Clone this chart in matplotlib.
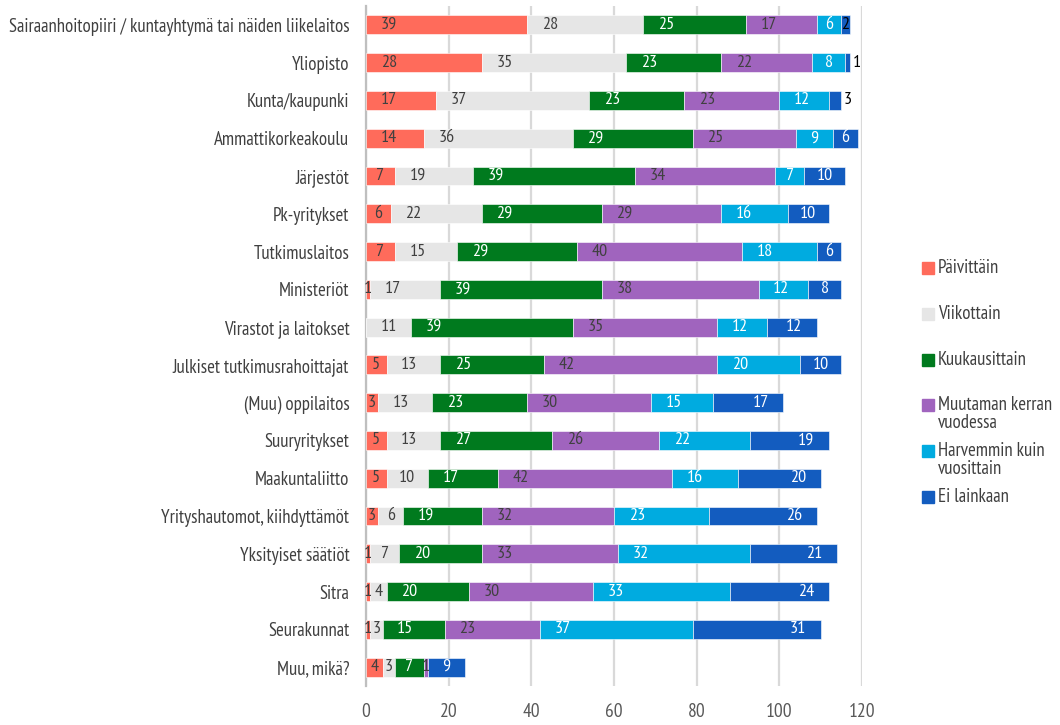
import matplotlib
matplotlib.use("Agg")
import matplotlib.pyplot as plt
import numpy as np
from matplotlib.patches import Rectangle

plt.rcParams['font.family'] = ['PT Sans Narrow', 'Roboto Condensed', 'DejaVu Sans']

categories = [
    "Sairaanhoitopiiri / kuntayhtymä tai näiden liikelaitos",
    "Yliopisto",
    "Kunta/kaupunki",
    "Ammattikorkeakoulu",
    "Järjestöt",
    "Pk-yritykset",
    "Tutkimuslaitos",
    "Ministeriöt",
    "Virastot ja laitokset",
    "Julkiset tutkimusrahoittajat",
    "(Muu) oppilaitos",
    "Suuryritykset",
    "Maakuntaliitto",
    "Yrityshautomot, kiihdyttämöt",
    "Yksityiset säätiöt",
    "Sitra",
    "Seurakunnat",
    "Muu, mikä?",
]

paivittain = [39, 28, 17, 14, 7, 6, 7, 1, 0, 5, 3, 5, 5, 3, 1, 1, 1, 4]
viikottain = [28, 35, 37, 36, 19, 22, 15, 17, 11, 13, 13, 13, 10, 6, 7, 4, 3, 3]
kuukausittain = [25, 23, 23, 29, 39, 29, 29, 39, 39, 25, 23, 27, 17, 19, 20, 20, 15, 7]
muutaman = [17, 22, 23, 25, 34, 29, 40, 38, 35, 42, 30, 26, 42, 32, 33, 30, 23, 1]
harvemmin = [6, 8, 12, 9, 7, 16, 18, 12, 12, 20, 15, 22, 16, 23, 32, 33, 37, 0]
ei_lainkaan = [2, 1, 3, 6, 10, 10, 6, 8, 12, 10, 17, 19, 20, 26, 21, 24, 31, 9]

series_names = ["Päivittäin", "Viikottain", "Kuukausittain",
                "Muutaman kerran\nvuodessa", "Harvemmin kuin\nvuosittain", "Ei lainkaan"]
series = [paivittain, viikottain, kuukausittain, muutaman, harvemmin, ei_lainkaan]
colors = ["#FF6B5B", "#E6E6E6", "#007A1E", "#A064BE", "#00ABE0", "#135CBF"]
text_colors = ["#404040", "#404040", "white", "#404040", "white", "white"]

# labels drawn just right of the bar end, and one drawn dark
outside = {(1, 5), (2, 5)}
dark = {(0, 5)}

fig = plt.figure(figsize=(10.6, 7.25), dpi=100)
ax = fig.add_axes([366 / 1060, 39 / 725, 496 / 1060, 680 / 725])

y = np.arange(len(categories))
left = np.zeros(len(categories))
for k, (vals, col) in enumerate(zip(series, colors)):
    vals = np.array(vals, dtype=float)
    ax.barh(y, vals, left=left, height=0.5, color=col, edgecolor='white',
            linewidth=0.4, zorder=3)
    for i, v in enumerate(vals):
        if v <= 0:
            continue
        if (i, k) in outside:
            ax.annotate(f"{int(v)}", (left[i] + v, y[i]), xytext=(2, 0),
                        textcoords='offset points', ha='left', va='center',
                        fontsize=13, color='black', zorder=4)
            continue
        off = min(v / 2, 5.5)
        x = left[i] + v - off if k == 5 else left[i] + off
        c = 'black' if (i, k) in dark else text_colors[k]
        ax.text(x, y[i], f"{int(v)}", ha='center', va='center',
                fontsize=13, color=c, zorder=4)
    left += vals

ax.set_xlim(0, 120)
ax.set_ylim(len(categories) - 0.5, -0.5)
ax.set_xticks(np.arange(0, 121, 20))
ax.set_yticks(y)
ax.set_yticklabels(categories, fontsize=13.5, color='#404040')
ax.tick_params(axis='y', length=0, pad=12)
ax.tick_params(axis='x', length=0, pad=12, labelsize=14, labelcolor='#595959')
ax.grid(axis='x', color='#D9D9D9', linewidth=1.6, zorder=0)
for s in ['top', 'right', 'bottom']:
    ax.spines[s].set_visible(False)
ax.spines['left'].set_color('#BFBFBF')
ax.spines['left'].set_linewidth(1.6)

# legend on the right
lx, ly, step = 922 / 1060, 1 - 268 / 725, 45.8 / 725
for k, (name, col) in enumerate(zip(series_names, colors)):
    yy = ly - k * step
    fig.patches.append(Rectangle((lx, yy - 6 / 725), 12 / 1060, 12 / 725,
                                 transform=fig.transFigure, color=col))
    lines = name.split("\n")
    for j, line in enumerate(lines):
        fig.text(lx + 16 / 1060, yy - j * 18 / 725, line, ha='left', va='center',
                 fontsize=13.5, color='#404040')

fig.savefig("out.png", dpi=100, facecolor='white')
